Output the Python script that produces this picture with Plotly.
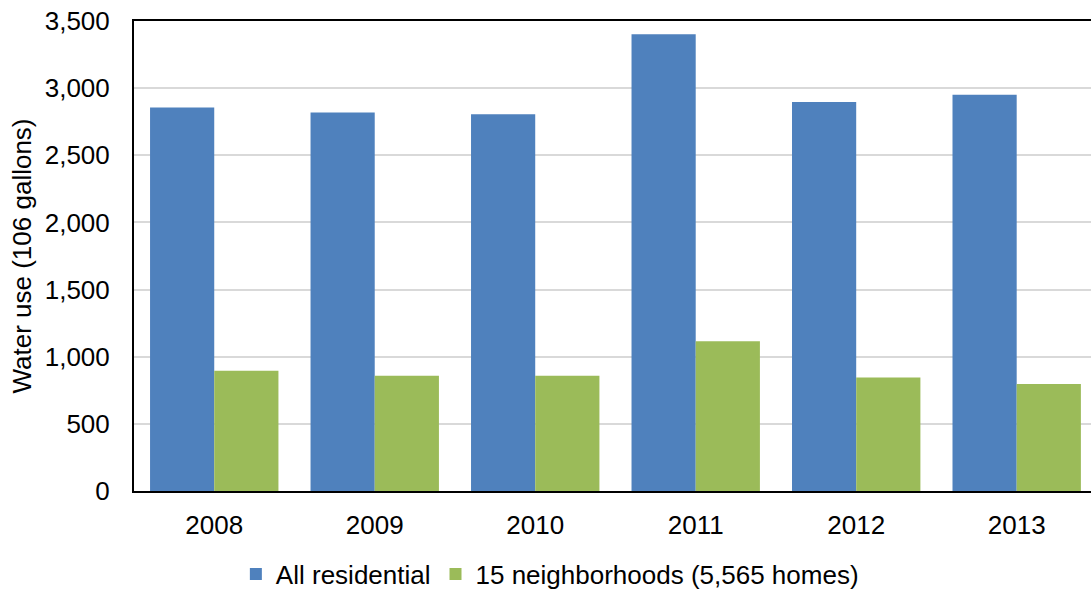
import plotly.graph_objects as go

years = ["2008", "2009", "2010", "2011", "2012", "2013"]
all_residential = [2855, 2818, 2806, 3402, 2897, 2950]
neighborhoods = [895, 858, 858, 1115, 846, 797]
y_ticks = [0, 500, 1000, 1500, 2000, 2500, 3000, 3500]
y_tick_text = ["0", "500", "1,000", "1,500", "2,000", "2,500", "3,000", "3,500"]

font_family = "Liberation Sans, Arial, sans-serif"

fig = go.Figure()
fig.add_trace(go.Bar(
    x=years, y=all_residential, name="All residential",
    marker=dict(color="#4F81BD", line=dict(width=0)),
))
fig.add_trace(go.Bar(
    x=years, y=neighborhoods, name="15 neighborhoods (5,565 homes)",
    marker=dict(color="#9BBB59", line=dict(width=0)),
))

fig.update_layout(
    width=1091, height=595,
    margin=dict(l=134, r=0, t=21, b=104),
    paper_bgcolor="white", plot_bgcolor="white",
    barmode="group", bargap=0.2, bargroupgap=0,
    font=dict(family=font_family, size=26, color="#000000"),
    legend=dict(
        orientation="h", xref="container", x=0.504, xanchor="center",
        yref="container", y=0.035, yanchor="middle",
        font=dict(size=26), itemwidth=30, tracegroupgap=0,
    ),
    xaxis=dict(
        range=[-0.5, 5.463], showline=True, linecolor="#000000", linewidth=2,
        mirror=True, ticks="", showgrid=False, tickfont=dict(size=26),
        ticklabelstandoff=10,
    ),
    yaxis=dict(
        range=[0, 3500], tickvals=y_ticks, ticktext=y_tick_text,
        showline=True, linecolor="#000000", linewidth=2, ticks="",
        showgrid=True, gridcolor="#D9D9D9", gridwidth=1.5,
        tickfont=dict(size=26), zeroline=False, ticklabelstandoff=17,
        title=dict(text="Water use (106 gallons)", font=dict(size=26), standoff=6),
    ),
)

fig.write_html("out.html")
